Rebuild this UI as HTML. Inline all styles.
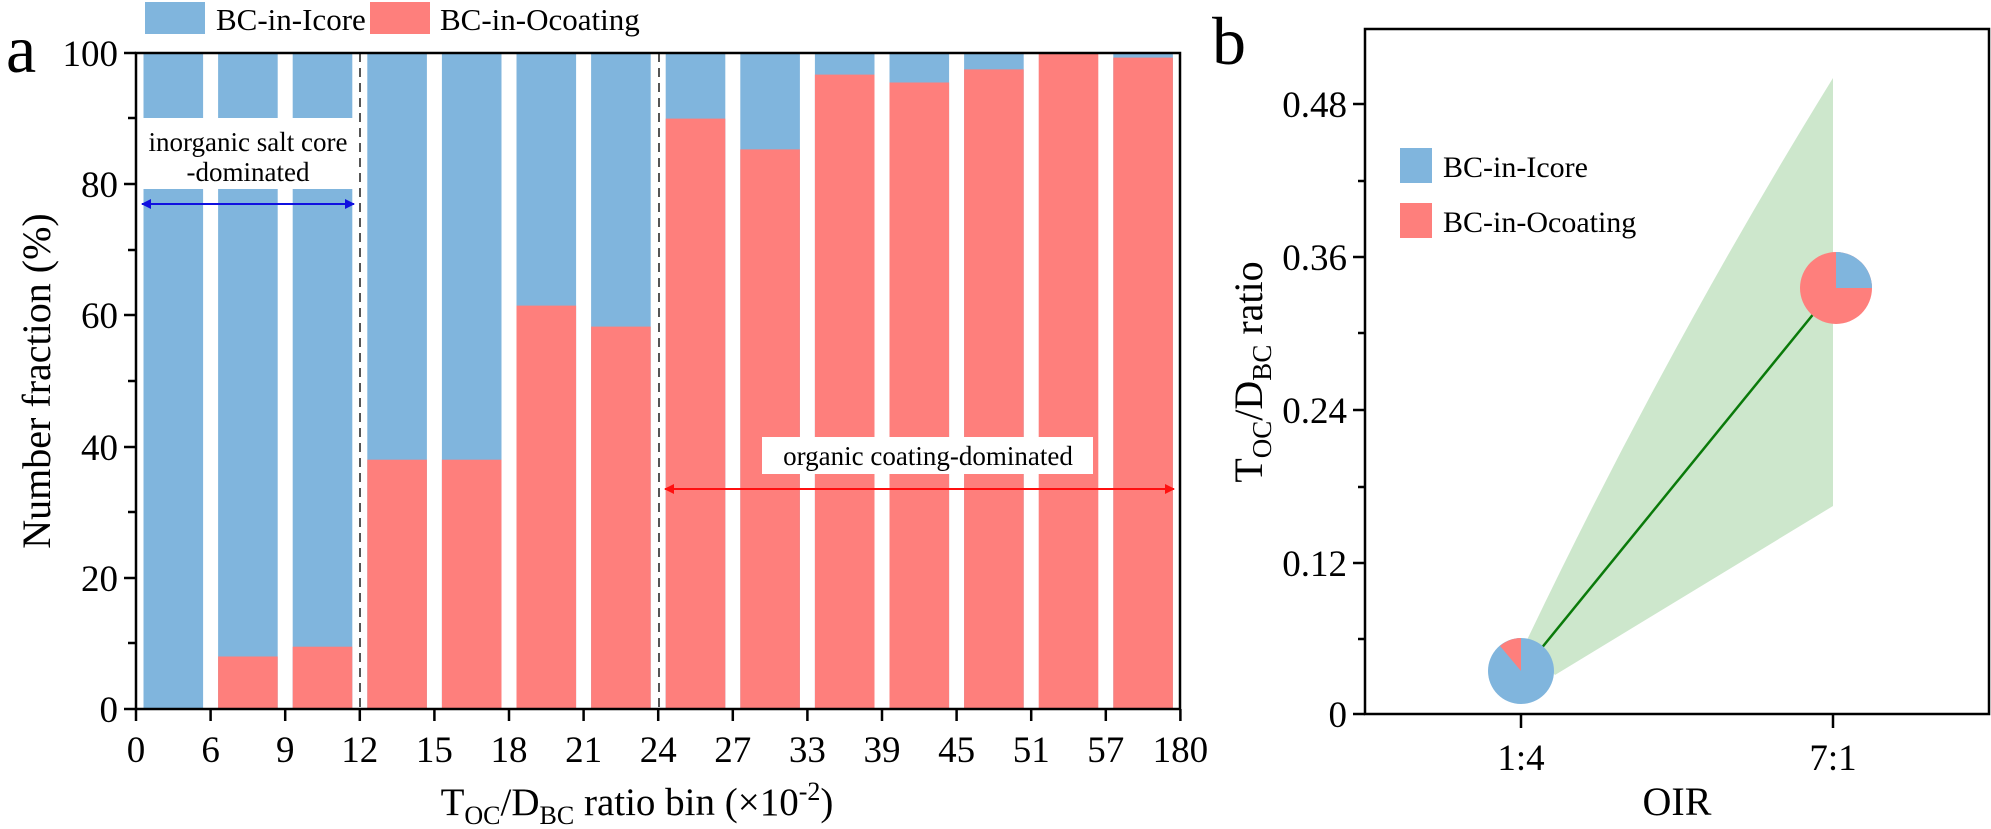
<!DOCTYPE html>
<html><head><meta charset="utf-8"><style>
html,body{margin:0;padding:0;background:#fff;}
svg{display:block;font-family:"Liberation Serif","Times New Roman",serif;}
</style></head><body>
<svg width="1991" height="829" viewBox="0 0 1991 829" xmlns="http://www.w3.org/2000/svg">
<defs>
<marker id="ab" markerWidth="10" markerHeight="10" refX="9" refY="5" orient="auto-start-reverse" markerUnits="userSpaceOnUse"><path d="M0,0 L10,5 L0,10 z" fill="#1010e0"/></marker>
<marker id="ar" markerWidth="10" markerHeight="10" refX="9" refY="5" orient="auto-start-reverse" markerUnits="userSpaceOnUse"><path d="M0,0 L10,5 L0,10 z" fill="#ff1010"/></marker>
</defs>
<rect x="145" y="2" width="60" height="32" fill="#80b5dd"/>
<text x="216" y="30" font-size="31">BC-in-Icore</text>
<rect x="370" y="2" width="60" height="32" fill="#fe7f7c"/>
<text x="440" y="30" font-size="31">BC-in-Ocoating</text>
<text x="6" y="72" font-size="68">a</text>
<g fill="#80b5dd">
<rect x="143.5" y="53" width="59.6" height="656"/>
<rect x="218.1" y="53" width="59.6" height="656"/>
<rect x="292.7" y="53" width="59.6" height="656"/>
<rect x="367.3" y="53" width="59.6" height="656"/>
<rect x="441.9" y="53" width="59.6" height="656"/>
<rect x="516.5" y="53" width="59.6" height="656"/>
<rect x="591.1" y="53" width="59.6" height="656"/>
<rect x="665.7" y="53" width="59.6" height="656"/>
<rect x="740.3" y="53" width="59.6" height="656"/>
<rect x="814.9" y="53" width="59.6" height="656"/>
<rect x="889.5" y="53" width="59.6" height="656"/>
<rect x="964.1" y="53" width="59.6" height="656"/>
<rect x="1113.3" y="53" width="59.6" height="656"/>
</g>
<g fill="#fe7f7c">
<rect x="218.1" y="656.5" width="59.6" height="52.5"/>
<rect x="292.7" y="646.7" width="59.6" height="62.3"/>
<rect x="367.3" y="459.7" width="59.6" height="249.3"/>
<rect x="441.9" y="459.7" width="59.6" height="249.3"/>
<rect x="516.5" y="305.6" width="59.6" height="403.4"/>
<rect x="591.1" y="326.6" width="59.6" height="382.4"/>
<rect x="665.7" y="118.6" width="59.6" height="590.4"/>
<rect x="740.3" y="149.4" width="59.6" height="559.6"/>
<rect x="814.9" y="74.6" width="59.6" height="634.4"/>
<rect x="889.5" y="82.5" width="59.6" height="626.5"/>
<rect x="964.1" y="69.4" width="59.6" height="639.6"/>
<rect x="1038.7" y="53" width="59.6" height="656"/>
<rect x="1113.3" y="57.6" width="59.6" height="651.4"/>
</g>
<rect x="140" y="118" width="215" height="71" fill="#fff"/>
<text x="248" y="151" font-size="27" text-anchor="middle">inorganic salt core</text>
<text x="248" y="181" font-size="27" text-anchor="middle">-dominated</text>
<line x1="360" y1="53" x2="360" y2="709" stroke="#555" stroke-width="2" stroke-dasharray="9,6"/>
<line x1="659" y1="53" x2="659" y2="709" stroke="#555" stroke-width="2" stroke-dasharray="9,6"/>
<line x1="142" y1="204" x2="354" y2="204" stroke="#1010e0" stroke-width="2" marker-start="url(#ab)" marker-end="url(#ab)"/>
<line x1="665" y1="489" x2="1174" y2="489" stroke="#ff1010" stroke-width="2" marker-start="url(#ar)" marker-end="url(#ar)"/>
<rect x="762" y="437" width="331" height="37" fill="#fff"/>
<text x="928" y="465" font-size="27" text-anchor="middle">organic coating-dominated</text>
<rect x="136" y="53" width="1044" height="656" fill="none" stroke="#000" stroke-width="2.5"/>
<g stroke="#000" stroke-width="2.5">
<line x1="124" y1="709" x2="136" y2="709"/><line x1="124" y1="578" x2="136" y2="578"/><line x1="124" y1="447" x2="136" y2="447"/><line x1="124" y1="315" x2="136" y2="315"/><line x1="124" y1="184" x2="136" y2="184"/><line x1="124" y1="53" x2="136" y2="53"/>
<line x1="128" y1="643" x2="136" y2="643"/><line x1="128" y1="512" x2="136" y2="512"/><line x1="128" y1="381" x2="136" y2="381"/><line x1="128" y1="250" x2="136" y2="250"/><line x1="128" y1="118" x2="136" y2="118"/>
<line x1="136" y1="709" x2="136" y2="721"/><line x1="210.6" y1="709" x2="210.6" y2="721"/><line x1="285.2" y1="709" x2="285.2" y2="721"/><line x1="359.8" y1="709" x2="359.8" y2="721"/><line x1="434.4" y1="709" x2="434.4" y2="721"/><line x1="509" y1="709" x2="509" y2="721"/><line x1="583.6" y1="709" x2="583.6" y2="721"/><line x1="658.2" y1="709" x2="658.2" y2="721"/><line x1="732.8" y1="709" x2="732.8" y2="721"/><line x1="807.4" y1="709" x2="807.4" y2="721"/><line x1="882" y1="709" x2="882" y2="721"/><line x1="956.6" y1="709" x2="956.6" y2="721"/><line x1="1031.2" y1="709" x2="1031.2" y2="721"/><line x1="1105.8" y1="709" x2="1105.8" y2="721"/><line x1="1180.4" y1="709" x2="1180.4" y2="721"/>
</g>
<g font-size="37" text-anchor="end">
<text x="118" y="722">0</text><text x="118" y="591">20</text><text x="118" y="460">40</text><text x="118" y="328">60</text><text x="118" y="197">80</text><text x="118" y="66">100</text>
</g>
<g font-size="37" text-anchor="middle">
<text x="136" y="762">0</text><text x="210.6" y="762">6</text><text x="285.2" y="762">9</text><text x="359.8" y="762">12</text><text x="434.4" y="762">15</text><text x="509" y="762">18</text><text x="583.6" y="762">21</text><text x="658.2" y="762">24</text><text x="732.8" y="762">27</text><text x="807.4" y="762">33</text><text x="882" y="762">39</text><text x="956.6" y="762">45</text><text x="1031.2" y="762">51</text><text x="1105.8" y="762">57</text><text x="1180.4" y="762">180</text>
</g>
<text x="637" y="815" font-size="39" text-anchor="middle">T<tspan font-size="26" dy="9">OC</tspan><tspan dy="-9">/D</tspan><tspan font-size="26" dy="9">BC</tspan><tspan dy="-9"> ratio bin (×10</tspan><tspan font-size="26" dy="-15">-2</tspan><tspan dy="15">)</tspan></text>
<text transform="translate(50,381) rotate(-90)" font-size="40" text-anchor="middle">Number fraction (%)</text>

<text x="1212" y="64" font-size="68">b</text>
<path d="M1527,640 Q1668,345 1833,78 L1833,506 L1555,675 Z" fill="#cde7cc"/>
<line x1="1540" y1="650" x2="1815" y2="312" stroke="#0a7a0a" stroke-width="2.5"/>
<circle cx="1521" cy="671" r="33" fill="#80b5dd"/>
<path d="M1521,671 L1521,638 A33,33 0 0 0 1500,646 Z" fill="#fe7f7c"/>
<circle cx="1836" cy="288" r="36" fill="#fe7f7c"/>
<path d="M1836,288 L1836,252 A36,36 0 0 1 1872,288 Z" fill="#80b5dd"/>
<rect x="1365" y="29" width="624" height="685" fill="none" stroke="#000" stroke-width="2.5"/>
<g stroke="#000" stroke-width="2.5">
<line x1="1353" y1="714" x2="1365" y2="714"/><line x1="1353" y1="563" x2="1365" y2="563"/><line x1="1353" y1="410" x2="1365" y2="410"/><line x1="1353" y1="257" x2="1365" y2="257"/><line x1="1353" y1="104" x2="1365" y2="104"/>
<line x1="1358" y1="639" x2="1365" y2="639"/><line x1="1358" y1="487" x2="1365" y2="487"/><line x1="1358" y1="333" x2="1365" y2="333"/><line x1="1358" y1="181" x2="1365" y2="181"/>
<line x1="1521" y1="714" x2="1521" y2="728"/><line x1="1833" y1="714" x2="1833" y2="728"/>
</g>
<g font-size="37" text-anchor="end">
<text x="1347" y="727">0</text><text x="1347" y="576">0.12</text><text x="1347" y="423">0.24</text><text x="1347" y="270">0.36</text><text x="1347" y="117">0.48</text>
</g>
<text x="1521" y="770" font-size="37" text-anchor="middle">1:4</text>
<text x="1833" y="770" font-size="37" text-anchor="middle">7:1</text>
<text x="1677" y="815" font-size="40" text-anchor="middle">OIR</text>
<text transform="translate(1262,372) rotate(-90)" font-size="40" text-anchor="middle">T<tspan font-size="27" dy="9">OC</tspan><tspan dy="-9">/D</tspan><tspan font-size="27" dy="9">BC</tspan><tspan dy="-9"> ratio</tspan></text>
<rect x="1400" y="148" width="32" height="35" fill="#80b5dd"/>
<text x="1443" y="177" font-size="30">BC-in-Icore</text>
<rect x="1400" y="203" width="32" height="35" fill="#fe7f7c"/>
<text x="1443" y="232" font-size="30">BC-in-Ocoating</text>
</svg>
</body></html>
